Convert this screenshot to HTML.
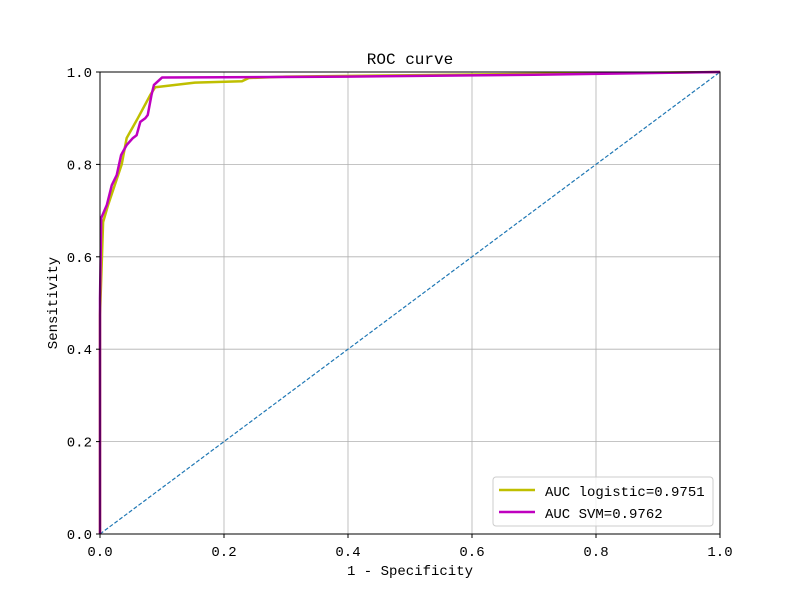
<!DOCTYPE html>
<html><head><meta charset="utf-8"><style>
body{margin:0;background:#fff;}
svg text{font-family:"Liberation Mono","WenQuanYi Zen Hei",monospace;fill:#000;}
</style></head><body>
<svg id="chart" width="800" height="600" xmlns="http://www.w3.org/2000/svg">
<rect width="800" height="600" fill="#fff"/>
<g id="grid"></g>
<line x1="100" y1="534" x2="720" y2="72" stroke="#1f77b4" stroke-width="1.2" stroke-dasharray="4,2"/>
<g id="series"></g>
<rect x="100" y="72" width="620" height="462" fill="none" stroke="#000" stroke-width="1"/>
<g id="ticks"></g>
<text x="410" y="64" text-anchor="middle" font-size="16">ROC curve</text>
<text x="410" y="575" text-anchor="middle" font-size="14">1 - Specificity</text>
<text transform="translate(57,303) rotate(-90)" text-anchor="middle" font-size="14">Sensitivity</text>
<g>
<rect x="493" y="477" width="220" height="49" rx="3" fill="#fff" fill-opacity="0.8" stroke="#ccc"/>
<line x1="499" y1="490" x2="535" y2="490" stroke="#bfbf00" stroke-width="2.5"/>
<text x="545" y="496" font-size="14">AUC logistic=0.9751</text>
<line x1="499" y1="512" x2="535" y2="512" stroke="#bf00bf" stroke-width="2.5"/>
<text x="545" y="518" font-size="14">AUC SVM=0.9762</text>
</g>
</svg>
<script>
const ticks=[0,0.2,0.4,0.6,0.8,1.0];
const tickLabels=["0.0","0.2","0.4","0.6","0.8","1.0"];
const logX=[0,0,0.005,0.013,0.035,0.043,0.061,0.081,0.089,0.153,0.229,0.24,0.3,0.5,0.7,1.0];
const logY=[0,0.474,0.675,0.712,0.8,0.857,0.9,0.95,0.967,0.977,0.98,0.987,0.99,0.993,0.996,1.0];
const svmX=[0,0,0.002,0.011,0.019,0.027,0.034,0.043,0.053,0.059,0.065,0.073,0.077,0.083,0.087,0.1,0.4,0.7,1.0];
const svmY=[0,0.51,0.684,0.712,0.755,0.777,0.82,0.842,0.857,0.863,0.892,0.9,0.907,0.95,0.972,0.988,0.99,0.994,1.0];
const sx=v=>100+v*620, sy=v=>534-v*462;
const NS="http://www.w3.org/2000/svg";
const grid=document.getElementById('grid'), tk=document.getElementById('ticks'), ser=document.getElementById('series');
ticks.forEach((t,i)=>{
  const gx=document.createElementNS(NS,'line');
  
  
  gx.setAttribute('x1',sx(t));gx.setAttribute('x2',sx(t));gx.setAttribute('y1',72);gx.setAttribute('y2',534);
  gx.setAttribute('stroke','#b0b0b0');gx.setAttribute('stroke-width','0.8');grid.appendChild(gx);
  const gy=document.createElementNS(NS,'line');
  
  
  gy.setAttribute('y1',sy(t));gy.setAttribute('y2',sy(t));gy.setAttribute('x1',100);gy.setAttribute('x2',720);
  gy.setAttribute('stroke','#b0b0b0');gy.setAttribute('stroke-width','0.8');grid.appendChild(gy);
  const mx=document.createElementNS(NS,'line');
  
  
  mx.setAttribute('x1',sx(t));mx.setAttribute('x2',sx(t));mx.setAttribute('y1',534);mx.setAttribute('y2',538);mx.setAttribute('stroke','#000');tk.appendChild(mx);
  const my=document.createElementNS(NS,'line');
  
  
  my.setAttribute('x1',96);my.setAttribute('x2',100);my.setAttribute('y1',sy(t));my.setAttribute('y2',sy(t));my.setAttribute('stroke','#000');tk.appendChild(my);
  const lx=document.createElementNS(NS,'text');
  
  
  lx.setAttribute('x',sx(t));lx.setAttribute('y',556);lx.setAttribute('text-anchor','middle');lx.setAttribute('font-size','14');lx.textContent=tickLabels[i];tk.appendChild(lx);
  const ly=document.createElementNS(NS,'text');
  
  
  ly.setAttribute('x',92);ly.setAttribute('y',sy(t)+5);ly.setAttribute('text-anchor','end');ly.setAttribute('font-size','14');ly.textContent=tickLabels[i];tk.appendChild(ly);
});
function line(xs,ys,color,name){
  const p=document.createElementNS(NS,'polyline');
  
  
  p.setAttribute('points',xs.map((x,i)=>sx(x)+','+sy(ys[i])).join(' '));
  p.setAttribute('fill','none');p.setAttribute('stroke',color);p.setAttribute('stroke-width','2.5');p.setAttribute('stroke-linejoin','round');
  ser.appendChild(p);
}
line(logX,logY,'#bfbf00','logistic-roc-line');
line(svmX,svmY,'#bf00bf','svm-roc-line');
</script>
</body></html>
